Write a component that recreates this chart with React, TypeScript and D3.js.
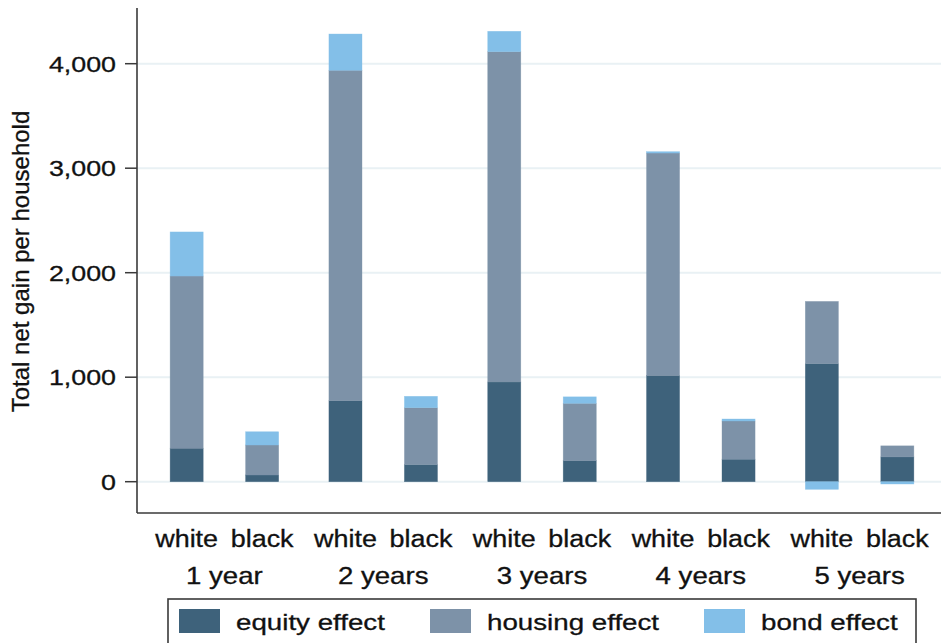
import React from 'react';
import * as d3 from 'd3';

// values
const years = ['1 year', '2 years', '3 years', '4 years', '5 years'];
const races = ['white', 'black'];
const seriesKeys = ['equity', 'housing', 'bond'];
const seriesLabels = ['equity effect', 'housing effect', 'bond effect'];
const equityWhite = [320, 775, 954, 1016, 1129];
const housingWhite = [1648, 3162, 3161, 2129, 596];
const bondWhite = [422, 347, 195, 13, -73];
const equityBlack = [64, 163, 202, 215, 237];
const housingBlack = [287, 545, 548, 366, 106];
const bondBlack = [127, 109, 62, 19, -22];
const yTicks = [0, 1000, 2000, 3000, 4000];

const colors: Record<string, string> = {
    equity: '#3e627b',
    housing: '#7d92a8',
    bond: '#83bfe8',
};

const W = 941;
const H = 643;
const axisX = 137;
const axisBottom = 513;
const axisTop = 8;
const font = '"Liberation Sans", Arial, sans-serif';

const App: React.FC = () => {
    // build rows for the stack
    const rows = years.flatMap((yr, i) => [
        { year: yr, race: 'white', equity: equityWhite[i], housing: housingWhite[i], bond: bondWhite[i] },
        { year: yr, race: 'black', equity: equityBlack[i], housing: housingBlack[i], bond: bondBlack[i] },
    ]);

    const stacked = d3.stack<any>()
        .keys(seriesKeys)
        .offset(d3.stackOffsetDiverging)(rows);

    const x0 = d3.scaleBand().domain(years).range([145, 939]).padding(0);
    const x1 = d3.scaleBand().domain(races).range([0, x0.bandwidth()])
        .paddingInner(0.562).paddingOuter(0.333);
    const y = d3.scaleLinear().domain([0, 4000]).range([481.7, 63.7]);

    // Stata's text comes out a bit wider than Arial, so stretch it sideways
    const stretch = (sx: number, tx: number, ty: number) => `translate(${tx},${ty}) scale(${sx},1)`;

    return (
        <div style={{ position: 'absolute', left: 0, top: 0 }}>
            <svg width={W} height={H} style={{ display: 'block', background: '#fff' }} fontFamily={font}>
                {/* grid */}
                {yTicks.map(t => (
                    <line key={'g' + t} x1={axisX} x2={W} y1={y(t)} y2={y(t)} stroke="#e9f1f4" strokeWidth={2} />
                ))}

                {/* bars */}
                {stacked.map(s => (
                    <g key={s.key} fill={colors[s.key]}>
                        {s.map((d: any, i: number) => {
                            const r = d.data;
                            const xp = (x0(r.year) ?? 0) + (x1(r.race) ?? 0);
                            const top = y(Math.max(d[0], d[1]));
                            const bot = y(Math.min(d[0], d[1]));
                            return (
                                <rect key={i} x={xp} y={top} width={x1.bandwidth()} height={Math.max(0, bot - top)}
                                    stroke={colors[s.key]} strokeOpacity={0.6} strokeWidth={0.6} />
                            );
                        })}
                    </g>
                ))}

                {/* axes */}
                <line x1={axisX} x2={axisX} y1={axisTop} y2={axisBottom} stroke="#3a3a3a" strokeWidth={1.6} />
                <line x1={axisX} x2={W} y1={axisBottom} y2={axisBottom} stroke="#3a3a3a" strokeWidth={1.6} />
                {yTicks.map(t => (
                    <g key={'t' + t}>
                        <line x1={125} x2={axisX} y1={y(t)} y2={y(t)} stroke="#3a3a3a" strokeWidth={1.5} />
                        <text transform={stretch(1.22, 116, y(t) + 8)} textAnchor="end" fontSize={22} fill="#111"
                            stroke="#111" strokeWidth={0.3}>
                            {d3.format(',')(t)}
                        </text>
                    </g>
                ))}

                <text transform={`translate(29,${261.5}) rotate(-90)`} textAnchor="middle" fontSize={24} fill="#111"
                    stroke="#111" strokeWidth={0.3}>
                    Total net gain per household
                </text>

                {/* x labels */}
                {years.map(yr => (
                    <g key={yr} fill="#111" stroke="#111" strokeWidth={0.3}>
                        {races.map(rc => (
                            <text key={rc}
                                transform={stretch(1.17, (x0(yr) ?? 0) + (x1(rc) ?? 0) + x1.bandwidth() / 2, 546.5)}
                                textAnchor="middle" fontSize={23}>
                                {rc}
                            </text>
                        ))}
                        <text transform={stretch(1.2, (x0(yr) ?? 0) + x0.bandwidth() / 2, 583.5)}
                            textAnchor="middle" fontSize={23}>
                            {yr}
                        </text>
                    </g>
                ))}

                {/* legend */}
                <rect x={168} y={599} width={748} height={60} fill="#fff" stroke="#3a3a3a" strokeWidth={1.6} />
                {seriesKeys.map((k, i) => {
                    const lx = [179, 430, 704][i];
                    return (
                        <g key={k}>
                            <rect x={lx} y={609} width={41} height={24} fill={colors[k]} />
                            <text transform={stretch(1.26, lx + 57, 629.5)} fontSize={22} fill="#111"
                                stroke="#111" strokeWidth={0.3}>
                                {seriesLabels[i]}
                            </text>
                        </g>
                    );
                })}
            </svg>
        </div>
    );
};

export default App;
